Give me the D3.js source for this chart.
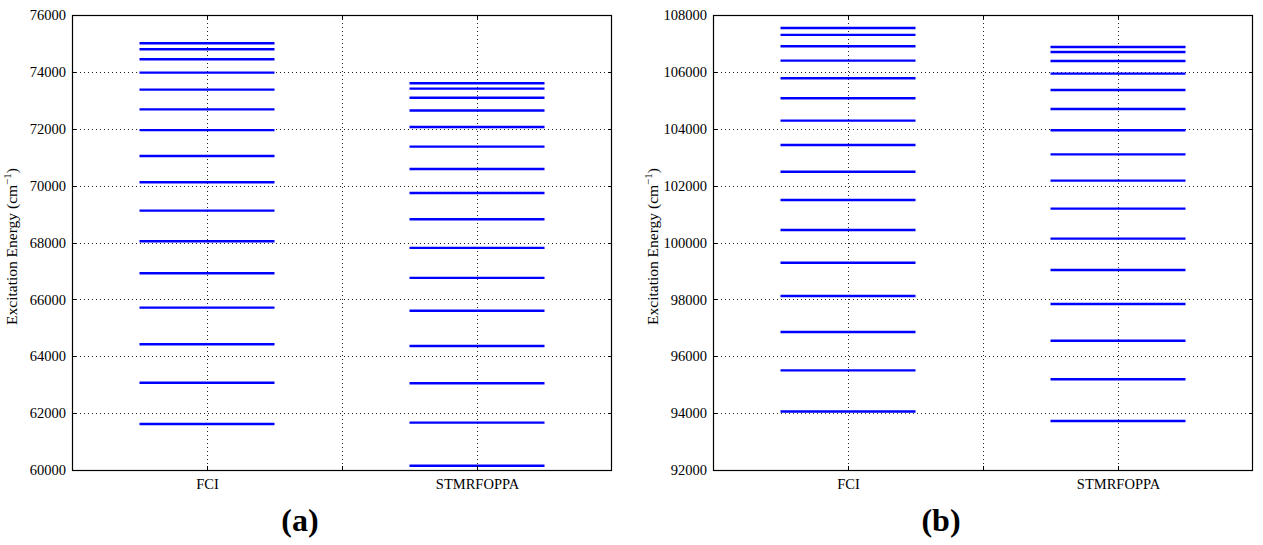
<!DOCTYPE html>
<html>
<head>
<meta charset="utf-8">
<script src="https://cdn.jsdelivr.net/npm/d3@7"></script>
<style>
  html, body { margin: 0; padding: 0; background: #fff; }
  svg { display: block; }
  text { font-family: "Liberation Serif", "DejaVu Serif", serif; fill: #000; }
</style>
</head>
<body>
<svg id="chart" width="1263" height="545"></svg>
<script>
// Category labels on the x axis (positions 1, 2, 3; the middle one is blank)
const categories = ["FCI", "", "STMRFOPPA"];

// Panel (a): excitation energies in cm^-1
const fciA = [61620, 63070, 64420, 65710, 66920, 68045, 69120, 70120, 71040, 71950,
              72680, 73375, 73975, 74445, 74795, 75005];
const stmA = [60150, 61665, 63050, 64360, 65600, 66755, 67810, 68815, 69740, 70585,
              71370, 72060, 72640, 73090, 73410, 73600];

// Panel (b): excitation energies in cm^-1
const fciB = [94055, 95505, 96855, 98120, 99290, 100440, 101495, 102490, 103430, 104285,
              105070, 105775, 106395, 106900, 107300, 107545];
const stmB = [93725, 95190, 96545, 97835, 99035, 100135, 101190, 102175, 103100, 103945,
              104695, 105365, 105940, 106385, 106700, 106875];

// y-axis ranges and tick values
const yDomainA = [60000, 76000];
const yDomainB = [92000, 108000];
const yTicksA = d3.range(60000, 76001, 2000);
const yTicksB = d3.range(92000, 108001, 2000);

const panels = [
  { left: 72, right: 612, domain: yDomainA, ticks: yTicksA, series: [fciA, stmA], tag: "(a)" },
  { left: 713, right: 1253, domain: yDomainB, ticks: yTicksB, series: [fciB, stmB], tag: "(b)" }
];

const serif = '"Liberation Serif", "DejaVu Serif", serif';
const plotTop = 15, plotBottom = 470, tickLen = 4;
const svg = d3.select("#chart");

panels.forEach(p => {
  const x = d3.scaleLinear().domain([0, 4]).range([p.left, p.right]);
  const y = d3.scaleLinear().domain(p.domain).range([plotBottom, plotTop]);
  const g = svg.append("g");

  // dotted grid
  const grid = g.append("g").attr("stroke", "#222").attr("stroke-width", 1)
    .attr("stroke-dasharray", "1,3");
  grid.selectAll("line.h").data(p.ticks.slice(1, -1)).join("line")
    .attr("x1", p.left).attr("x2", p.right)
    .attr("y1", d => Math.round(y(d)) + 0.5).attr("y2", d => Math.round(y(d)) + 0.5);
  grid.selectAll("line.v").data([1, 2, 3]).join("line")
    .attr("y1", plotTop).attr("y2", plotBottom)
    .attr("x1", d => Math.round(x(d)) + 0.5).attr("x2", d => Math.round(x(d)) + 0.5);

  // energy levels
  p.series.forEach((vals, i) => {
    g.append("g").selectAll("line").data(vals).join("line")
      .attr("x1", x(i * 2 + 0.5)).attr("x2", x(i * 2 + 1.5))
      .attr("y1", d => y(d)).attr("y2", d => y(d))
      .attr("stroke", "#0000ff").attr("stroke-width", 2.4);
  });

  // left axis with tick labels
  const yAxis = d3.axisLeft(y).tickValues(p.ticks).tickFormat(d3.format("d"))
    .tickSize(0).tickPadding(6);
  const ya = g.append("g").attr("transform", `translate(${p.left},0)`).call(yAxis)
    .attr("font-family", serif).attr("font-size", 14.5);
  ya.select(".domain").remove();

  // bottom axis with category labels
  const xAxis = d3.axisBottom(x).tickValues([1, 2, 3]).tickFormat((d, i) => categories[i])
    .tickSize(0).tickPadding(9);
  const xa = g.append("g").attr("transform", `translate(0,${plotBottom})`).call(xAxis)
    .attr("font-family", serif).attr("font-size", 14.5);
  xa.select(".domain").remove();

  // inward tick marks on all four sides
  const tk = g.append("g").attr("stroke", "#000").attr("stroke-width", 1);
  p.ticks.forEach(t => {
    const yy = Math.round(y(t)) + 0.5;
    tk.append("line").attr("x1", p.left).attr("x2", p.left + tickLen).attr("y1", yy).attr("y2", yy);
    tk.append("line").attr("x1", p.right - tickLen).attr("x2", p.right).attr("y1", yy).attr("y2", yy);
  });
  [1, 2, 3].forEach(t => {
    const xx = Math.round(x(t)) + 0.5;
    tk.append("line").attr("x1", xx).attr("x2", xx).attr("y1", plotBottom - tickLen).attr("y2", plotBottom);
    tk.append("line").attr("x1", xx).attr("x2", xx).attr("y1", plotTop).attr("y2", plotTop + tickLen);
  });

  // frame
  g.append("rect").attr("x", p.left + 0.5).attr("y", plotTop + 0.5)
    .attr("width", p.right - p.left - 1).attr("height", plotBottom - plotTop)
    .attr("fill", "none").attr("stroke", "#000").attr("stroke-width", 1.2);

  // y-axis title
  const yt = g.append("text")
    .attr("transform", `translate(${p.left - 55},${(plotTop + plotBottom) / 2 + 4}) rotate(-90)`)
    .attr("text-anchor", "middle")
    .attr("font-family", serif)
    .style("font-size", "15.5px");
  yt.append("tspan").text("Excitation Energy (cm");
  yt.append("tspan").attr("dy", -6).style("font-size", "11px").text("\u22121");
  yt.append("tspan").attr("dy", 6).text(")");

  // panel tag
  g.append("text").attr("x", (p.left + p.right) / 2 - 42).attr("y", 531)
    .attr("text-anchor", "middle")
    .attr("font-family", serif)
    .style("font-size", "32px").style("font-weight", "bold")
    .text(p.tag);
});
</script>
</body>
</html>
